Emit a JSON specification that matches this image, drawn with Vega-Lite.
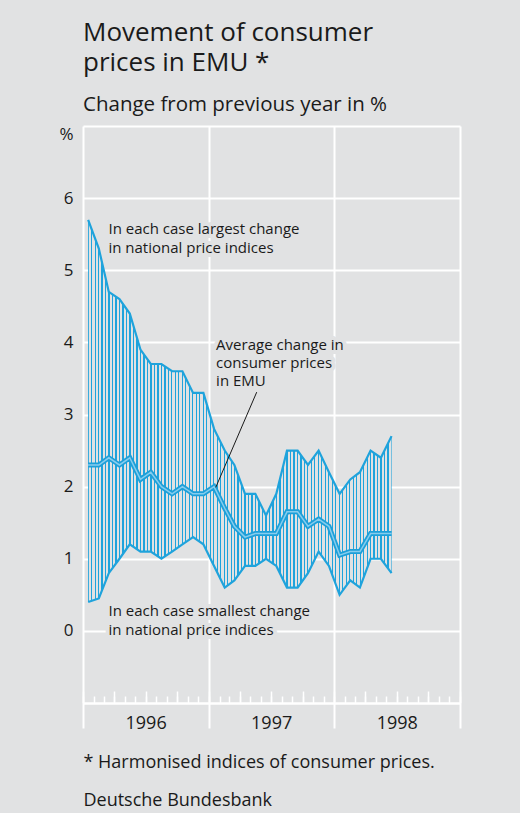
{
"$schema": "https://vega.github.io/schema/vega-lite/v6.json",
"width": 377, "height": 577,
"autosize": "none",
"padding": {"left": 83, "top": 126, "right": 60, "bottom": 110},
"background": "#e1e2e3",
"config": {"view": {"stroke": null}, "font": "Open Sans"},
"title": {
  "text": ["Movement of consumer", "prices in EMU *"],
  "subtitle": "Change from previous year in %",
  "anchor": "start", "frame": "group",
  "font": "Open Sans", "fontSize": 26, "fontWeight": "normal", "color": "#1a1a1a", "lineHeight": 30,
  "subtitleFont": "Open Sans", "subtitleFontSize": 20.5, "subtitleColor": "#1a1a1a", "subtitlePadding": 19,
  "offset": 2
},
"datasets": {
  "cpi": [
    {"month":"1996-01-16","max":5.7,"avg":2.3,"min":0.4},
    {"month":"1996-02-16","max":5.3,"avg":2.3,"min":0.45},
    {"month":"1996-03-16","max":4.7,"avg":2.4,"min":0.8},
    {"month":"1996-04-16","max":4.6,"avg":2.3,"min":1.0},
    {"month":"1996-05-16","max":4.4,"avg":2.4,"min":1.2},
    {"month":"1996-06-16","max":3.9,"avg":2.1,"min":1.1},
    {"month":"1996-07-16","max":3.7,"avg":2.2,"min":1.1},
    {"month":"1996-08-16","max":3.7,"avg":2.0,"min":1.0},
    {"month":"1996-09-16","max":3.6,"avg":1.9,"min":1.1},
    {"month":"1996-10-16","max":3.6,"avg":2.0,"min":1.2},
    {"month":"1996-11-16","max":3.3,"avg":1.9,"min":1.3},
    {"month":"1996-12-16","max":3.3,"avg":1.9,"min":1.2},
    {"month":"1997-01-16","max":2.8,"avg":2.0,"min":0.9},
    {"month":"1997-02-16","max":2.5,"avg":1.7,"min":0.6},
    {"month":"1997-03-16","max":2.3,"avg":1.45,"min":0.7},
    {"month":"1997-04-16","max":1.9,"avg":1.3,"min":0.9},
    {"month":"1997-05-16","max":1.9,"avg":1.35,"min":0.9},
    {"month":"1997-06-16","max":1.6,"avg":1.35,"min":1.0},
    {"month":"1997-07-16","max":1.9,"avg":1.35,"min":0.9},
    {"month":"1997-08-16","max":2.5,"avg":1.65,"min":0.6},
    {"month":"1997-09-16","max":2.5,"avg":1.65,"min":0.6},
    {"month":"1997-10-16","max":2.3,"avg":1.45,"min":0.8},
    {"month":"1997-11-16","max":2.5,"avg":1.55,"min":1.1},
    {"month":"1997-12-16","max":2.2,"avg":1.45,"min":0.9},
    {"month":"1998-01-16","max":1.9,"avg":1.05,"min":0.5},
    {"month":"1998-02-16","max":2.1,"avg":1.1,"min":0.7},
    {"month":"1998-03-16","max":2.2,"avg":1.1,"min":0.6},
    {"month":"1998-04-16","max":2.5,"avg":1.35,"min":1.0},
    {"month":"1998-05-16","max":2.4,"avg":1.35,"min":1.0},
    {"month":"1998-06-16","max":2.7,"avg":1.35,"min":0.8}
  ],
  "notes": [
    {"month":"1996-03-15","y":5.57,"text":"In each case largest change"},
    {"month":"1996-03-15","y":5.31,"text":"in national price indices"},
    {"month":"1997-01-22","y":3.97,"text":"Average change in"},
    {"month":"1997-01-22","y":3.72,"text":"consumer prices"},
    {"month":"1997-01-22","y":3.46,"text":"in EMU"},
    {"month":"1996-03-15","y":0.27,"text":"In each case smallest change"},
    {"month":"1996-03-15","y":0.01,"text":"in national price indices"}
  ],
  "pointer": [
    {"from":"1997-05-20","y":3.31,"to":"1997-01-21","y2":1.99}
  ]
},
"layer": [
  {
    "data": {"name": "cpi"},
    "mark": {"type": "area", "fill": {"gradient": "linear", "x1": 0, "y1": 0, "x2": 1.149425, "y2": 0, "stops": [
      {"offset":0,"color":"#1fa3dc"},{"offset":0.0018,"color":"#1fa3dc"},{"offset":0.0018,"color":"#e1e2e3"},
      {"offset":0.0082,"color":"#e1e2e3"},{"offset":0.0082,"color":"#1fa3dc"},{"offset":0.0118,"color":"#1fa3dc"},{"offset":0.0118,"color":"#e1e2e3"},
      {"offset":0.0182,"color":"#e1e2e3"},{"offset":0.0182,"color":"#1fa3dc"},{"offset":0.0218,"color":"#1fa3dc"},{"offset":0.0218,"color":"#e1e2e3"},
      {"offset":0.0282,"color":"#e1e2e3"},{"offset":0.0282,"color":"#1fa3dc"},{"offset":0.0318,"color":"#1fa3dc"},{"offset":0.0318,"color":"#e1e2e3"},
      {"offset":0.0382,"color":"#e1e2e3"},{"offset":0.0382,"color":"#1fa3dc"},{"offset":0.0418,"color":"#1fa3dc"},{"offset":0.0418,"color":"#e1e2e3"},
      {"offset":0.0482,"color":"#e1e2e3"},{"offset":0.0482,"color":"#1fa3dc"},{"offset":0.0518,"color":"#1fa3dc"},{"offset":0.0518,"color":"#e1e2e3"},
      {"offset":0.0582,"color":"#e1e2e3"},{"offset":0.0582,"color":"#1fa3dc"},{"offset":0.0618,"color":"#1fa3dc"},{"offset":0.0618,"color":"#e1e2e3"},
      {"offset":0.0682,"color":"#e1e2e3"},{"offset":0.0682,"color":"#1fa3dc"},{"offset":0.0718,"color":"#1fa3dc"},{"offset":0.0718,"color":"#e1e2e3"},
      {"offset":0.0782,"color":"#e1e2e3"},{"offset":0.0782,"color":"#1fa3dc"},{"offset":0.0818,"color":"#1fa3dc"},{"offset":0.0818,"color":"#e1e2e3"},
      {"offset":0.0882,"color":"#e1e2e3"},{"offset":0.0882,"color":"#1fa3dc"},{"offset":0.0918,"color":"#1fa3dc"},{"offset":0.0918,"color":"#e1e2e3"},
      {"offset":0.0982,"color":"#e1e2e3"},{"offset":0.0982,"color":"#1fa3dc"},{"offset":0.1018,"color":"#1fa3dc"},{"offset":0.1018,"color":"#e1e2e3"},
      {"offset":0.1082,"color":"#e1e2e3"},{"offset":0.1082,"color":"#1fa3dc"},{"offset":0.1118,"color":"#1fa3dc"},{"offset":0.1118,"color":"#e1e2e3"},
      {"offset":0.1182,"color":"#e1e2e3"},{"offset":0.1182,"color":"#1fa3dc"},{"offset":0.1218,"color":"#1fa3dc"},{"offset":0.1218,"color":"#e1e2e3"},
      {"offset":0.1282,"color":"#e1e2e3"},{"offset":0.1282,"color":"#1fa3dc"},{"offset":0.1318,"color":"#1fa3dc"},{"offset":0.1318,"color":"#e1e2e3"},
      {"offset":0.1382,"color":"#e1e2e3"},{"offset":0.1382,"color":"#1fa3dc"},{"offset":0.1418,"color":"#1fa3dc"},{"offset":0.1418,"color":"#e1e2e3"},
      {"offset":0.1482,"color":"#e1e2e3"},{"offset":0.1482,"color":"#1fa3dc"},{"offset":0.1518,"color":"#1fa3dc"},{"offset":0.1518,"color":"#e1e2e3"},
      {"offset":0.1582,"color":"#e1e2e3"},{"offset":0.1582,"color":"#1fa3dc"},{"offset":0.1618,"color":"#1fa3dc"},{"offset":0.1618,"color":"#e1e2e3"},
      {"offset":0.1682,"color":"#e1e2e3"},{"offset":0.1682,"color":"#1fa3dc"},{"offset":0.1718,"color":"#1fa3dc"},{"offset":0.1718,"color":"#e1e2e3"},
      {"offset":0.1782,"color":"#e1e2e3"},{"offset":0.1782,"color":"#1fa3dc"},{"offset":0.1818,"color":"#1fa3dc"},{"offset":0.1818,"color":"#e1e2e3"},
      {"offset":0.1882,"color":"#e1e2e3"},{"offset":0.1882,"color":"#1fa3dc"},{"offset":0.1918,"color":"#1fa3dc"},{"offset":0.1918,"color":"#e1e2e3"},
      {"offset":0.1982,"color":"#e1e2e3"},{"offset":0.1982,"color":"#1fa3dc"},{"offset":0.2018,"color":"#1fa3dc"},{"offset":0.2018,"color":"#e1e2e3"},
      {"offset":0.2082,"color":"#e1e2e3"},{"offset":0.2082,"color":"#1fa3dc"},{"offset":0.2118,"color":"#1fa3dc"},{"offset":0.2118,"color":"#e1e2e3"},
      {"offset":0.2182,"color":"#e1e2e3"},{"offset":0.2182,"color":"#1fa3dc"},{"offset":0.2218,"color":"#1fa3dc"},{"offset":0.2218,"color":"#e1e2e3"},
      {"offset":0.2282,"color":"#e1e2e3"},{"offset":0.2282,"color":"#1fa3dc"},{"offset":0.2318,"color":"#1fa3dc"},{"offset":0.2318,"color":"#e1e2e3"},
      {"offset":0.2382,"color":"#e1e2e3"},{"offset":0.2382,"color":"#1fa3dc"},{"offset":0.2418,"color":"#1fa3dc"},{"offset":0.2418,"color":"#e1e2e3"},
      {"offset":0.2482,"color":"#e1e2e3"},{"offset":0.2482,"color":"#1fa3dc"},{"offset":0.2518,"color":"#1fa3dc"},{"offset":0.2518,"color":"#e1e2e3"},
      {"offset":0.2582,"color":"#e1e2e3"},{"offset":0.2582,"color":"#1fa3dc"},{"offset":0.2618,"color":"#1fa3dc"},{"offset":0.2618,"color":"#e1e2e3"},
      {"offset":0.2682,"color":"#e1e2e3"},{"offset":0.2682,"color":"#1fa3dc"},{"offset":0.2718,"color":"#1fa3dc"},{"offset":0.2718,"color":"#e1e2e3"},
      {"offset":0.2782,"color":"#e1e2e3"},{"offset":0.2782,"color":"#1fa3dc"},{"offset":0.2818,"color":"#1fa3dc"},{"offset":0.2818,"color":"#e1e2e3"},
      {"offset":0.2882,"color":"#e1e2e3"},{"offset":0.2882,"color":"#1fa3dc"},{"offset":0.2918,"color":"#1fa3dc"},{"offset":0.2918,"color":"#e1e2e3"},
      {"offset":0.2982,"color":"#e1e2e3"},{"offset":0.2982,"color":"#1fa3dc"},{"offset":0.3018,"color":"#1fa3dc"},{"offset":0.3018,"color":"#e1e2e3"},
      {"offset":0.3082,"color":"#e1e2e3"},{"offset":0.3082,"color":"#1fa3dc"},{"offset":0.3118,"color":"#1fa3dc"},{"offset":0.3118,"color":"#e1e2e3"},
      {"offset":0.3182,"color":"#e1e2e3"},{"offset":0.3182,"color":"#1fa3dc"},{"offset":0.3218,"color":"#1fa3dc"},{"offset":0.3218,"color":"#e1e2e3"},
      {"offset":0.3282,"color":"#e1e2e3"},{"offset":0.3282,"color":"#1fa3dc"},{"offset":0.3318,"color":"#1fa3dc"},{"offset":0.3318,"color":"#e1e2e3"},
      {"offset":0.3382,"color":"#e1e2e3"},{"offset":0.3382,"color":"#1fa3dc"},{"offset":0.3418,"color":"#1fa3dc"},{"offset":0.3418,"color":"#e1e2e3"},
      {"offset":0.3482,"color":"#e1e2e3"},{"offset":0.3482,"color":"#1fa3dc"},{"offset":0.3518,"color":"#1fa3dc"},{"offset":0.3518,"color":"#e1e2e3"},
      {"offset":0.3582,"color":"#e1e2e3"},{"offset":0.3582,"color":"#1fa3dc"},{"offset":0.3618,"color":"#1fa3dc"},{"offset":0.3618,"color":"#e1e2e3"},
      {"offset":0.3682,"color":"#e1e2e3"},{"offset":0.3682,"color":"#1fa3dc"},{"offset":0.3718,"color":"#1fa3dc"},{"offset":0.3718,"color":"#e1e2e3"},
      {"offset":0.3782,"color":"#e1e2e3"},{"offset":0.3782,"color":"#1fa3dc"},{"offset":0.3818,"color":"#1fa3dc"},{"offset":0.3818,"color":"#e1e2e3"},
      {"offset":0.3882,"color":"#e1e2e3"},{"offset":0.3882,"color":"#1fa3dc"},{"offset":0.3918,"color":"#1fa3dc"},{"offset":0.3918,"color":"#e1e2e3"},
      {"offset":0.3982,"color":"#e1e2e3"},{"offset":0.3982,"color":"#1fa3dc"},{"offset":0.4018,"color":"#1fa3dc"},{"offset":0.4018,"color":"#e1e2e3"},
      {"offset":0.4082,"color":"#e1e2e3"},{"offset":0.4082,"color":"#1fa3dc"},{"offset":0.4118,"color":"#1fa3dc"},{"offset":0.4118,"color":"#e1e2e3"},
      {"offset":0.4182,"color":"#e1e2e3"},{"offset":0.4182,"color":"#1fa3dc"},{"offset":0.4218,"color":"#1fa3dc"},{"offset":0.4218,"color":"#e1e2e3"},
      {"offset":0.4282,"color":"#e1e2e3"},{"offset":0.4282,"color":"#1fa3dc"},{"offset":0.4318,"color":"#1fa3dc"},{"offset":0.4318,"color":"#e1e2e3"},
      {"offset":0.4382,"color":"#e1e2e3"},{"offset":0.4382,"color":"#1fa3dc"},{"offset":0.4418,"color":"#1fa3dc"},{"offset":0.4418,"color":"#e1e2e3"},
      {"offset":0.4482,"color":"#e1e2e3"},{"offset":0.4482,"color":"#1fa3dc"},{"offset":0.4518,"color":"#1fa3dc"},{"offset":0.4518,"color":"#e1e2e3"},
      {"offset":0.4582,"color":"#e1e2e3"},{"offset":0.4582,"color":"#1fa3dc"},{"offset":0.4618,"color":"#1fa3dc"},{"offset":0.4618,"color":"#e1e2e3"},
      {"offset":0.4682,"color":"#e1e2e3"},{"offset":0.4682,"color":"#1fa3dc"},{"offset":0.4718,"color":"#1fa3dc"},{"offset":0.4718,"color":"#e1e2e3"},
      {"offset":0.4782,"color":"#e1e2e3"},{"offset":0.4782,"color":"#1fa3dc"},{"offset":0.4818,"color":"#1fa3dc"},{"offset":0.4818,"color":"#e1e2e3"},
      {"offset":0.4882,"color":"#e1e2e3"},{"offset":0.4882,"color":"#1fa3dc"},{"offset":0.4918,"color":"#1fa3dc"},{"offset":0.4918,"color":"#e1e2e3"},
      {"offset":0.4982,"color":"#e1e2e3"},{"offset":0.4982,"color":"#1fa3dc"},{"offset":0.5018,"color":"#1fa3dc"},{"offset":0.5018,"color":"#e1e2e3"},
      {"offset":0.5082,"color":"#e1e2e3"},{"offset":0.5082,"color":"#1fa3dc"},{"offset":0.5118,"color":"#1fa3dc"},{"offset":0.5118,"color":"#e1e2e3"},
      {"offset":0.5182,"color":"#e1e2e3"},{"offset":0.5182,"color":"#1fa3dc"},{"offset":0.5218,"color":"#1fa3dc"},{"offset":0.5218,"color":"#e1e2e3"},
      {"offset":0.5282,"color":"#e1e2e3"},{"offset":0.5282,"color":"#1fa3dc"},{"offset":0.5318,"color":"#1fa3dc"},{"offset":0.5318,"color":"#e1e2e3"},
      {"offset":0.5382,"color":"#e1e2e3"},{"offset":0.5382,"color":"#1fa3dc"},{"offset":0.5418,"color":"#1fa3dc"},{"offset":0.5418,"color":"#e1e2e3"},
      {"offset":0.5482,"color":"#e1e2e3"},{"offset":0.5482,"color":"#1fa3dc"},{"offset":0.5518,"color":"#1fa3dc"},{"offset":0.5518,"color":"#e1e2e3"},
      {"offset":0.5582,"color":"#e1e2e3"},{"offset":0.5582,"color":"#1fa3dc"},{"offset":0.5618,"color":"#1fa3dc"},{"offset":0.5618,"color":"#e1e2e3"},
      {"offset":0.5682,"color":"#e1e2e3"},{"offset":0.5682,"color":"#1fa3dc"},{"offset":0.5718,"color":"#1fa3dc"},{"offset":0.5718,"color":"#e1e2e3"},
      {"offset":0.5782,"color":"#e1e2e3"},{"offset":0.5782,"color":"#1fa3dc"},{"offset":0.5818,"color":"#1fa3dc"},{"offset":0.5818,"color":"#e1e2e3"},
      {"offset":0.5882,"color":"#e1e2e3"},{"offset":0.5882,"color":"#1fa3dc"},{"offset":0.5918,"color":"#1fa3dc"},{"offset":0.5918,"color":"#e1e2e3"},
      {"offset":0.5982,"color":"#e1e2e3"},{"offset":0.5982,"color":"#1fa3dc"},{"offset":0.6018,"color":"#1fa3dc"},{"offset":0.6018,"color":"#e1e2e3"},
      {"offset":0.6082,"color":"#e1e2e3"},{"offset":0.6082,"color":"#1fa3dc"},{"offset":0.6118,"color":"#1fa3dc"},{"offset":0.6118,"color":"#e1e2e3"},
      {"offset":0.6182,"color":"#e1e2e3"},{"offset":0.6182,"color":"#1fa3dc"},{"offset":0.6218,"color":"#1fa3dc"},{"offset":0.6218,"color":"#e1e2e3"},
      {"offset":0.6282,"color":"#e1e2e3"},{"offset":0.6282,"color":"#1fa3dc"},{"offset":0.6318,"color":"#1fa3dc"},{"offset":0.6318,"color":"#e1e2e3"},
      {"offset":0.6382,"color":"#e1e2e3"},{"offset":0.6382,"color":"#1fa3dc"},{"offset":0.6418,"color":"#1fa3dc"},{"offset":0.6418,"color":"#e1e2e3"},
      {"offset":0.6482,"color":"#e1e2e3"},{"offset":0.6482,"color":"#1fa3dc"},{"offset":0.6518,"color":"#1fa3dc"},{"offset":0.6518,"color":"#e1e2e3"},
      {"offset":0.6582,"color":"#e1e2e3"},{"offset":0.6582,"color":"#1fa3dc"},{"offset":0.6618,"color":"#1fa3dc"},{"offset":0.6618,"color":"#e1e2e3"},
      {"offset":0.6682,"color":"#e1e2e3"},{"offset":0.6682,"color":"#1fa3dc"},{"offset":0.6718,"color":"#1fa3dc"},{"offset":0.6718,"color":"#e1e2e3"},
      {"offset":0.6782,"color":"#e1e2e3"},{"offset":0.6782,"color":"#1fa3dc"},{"offset":0.6818,"color":"#1fa3dc"},{"offset":0.6818,"color":"#e1e2e3"},
      {"offset":0.6882,"color":"#e1e2e3"},{"offset":0.6882,"color":"#1fa3dc"},{"offset":0.6918,"color":"#1fa3dc"},{"offset":0.6918,"color":"#e1e2e3"},
      {"offset":0.6982,"color":"#e1e2e3"},{"offset":0.6982,"color":"#1fa3dc"},{"offset":0.7018,"color":"#1fa3dc"},{"offset":0.7018,"color":"#e1e2e3"},
      {"offset":0.7082,"color":"#e1e2e3"},{"offset":0.7082,"color":"#1fa3dc"},{"offset":0.7118,"color":"#1fa3dc"},{"offset":0.7118,"color":"#e1e2e3"},
      {"offset":0.7182,"color":"#e1e2e3"},{"offset":0.7182,"color":"#1fa3dc"},{"offset":0.7218,"color":"#1fa3dc"},{"offset":0.7218,"color":"#e1e2e3"},
      {"offset":0.7282,"color":"#e1e2e3"},{"offset":0.7282,"color":"#1fa3dc"},{"offset":0.7318,"color":"#1fa3dc"},{"offset":0.7318,"color":"#e1e2e3"},
      {"offset":0.7382,"color":"#e1e2e3"},{"offset":0.7382,"color":"#1fa3dc"},{"offset":0.7418,"color":"#1fa3dc"},{"offset":0.7418,"color":"#e1e2e3"},
      {"offset":0.7482,"color":"#e1e2e3"},{"offset":0.7482,"color":"#1fa3dc"},{"offset":0.7518,"color":"#1fa3dc"},{"offset":0.7518,"color":"#e1e2e3"},
      {"offset":0.7582,"color":"#e1e2e3"},{"offset":0.7582,"color":"#1fa3dc"},{"offset":0.7618,"color":"#1fa3dc"},{"offset":0.7618,"color":"#e1e2e3"},
      {"offset":0.7682,"color":"#e1e2e3"},{"offset":0.7682,"color":"#1fa3dc"},{"offset":0.7718,"color":"#1fa3dc"},{"offset":0.7718,"color":"#e1e2e3"},
      {"offset":0.7782,"color":"#e1e2e3"},{"offset":0.7782,"color":"#1fa3dc"},{"offset":0.7818,"color":"#1fa3dc"},{"offset":0.7818,"color":"#e1e2e3"},
      {"offset":0.7882,"color":"#e1e2e3"},{"offset":0.7882,"color":"#1fa3dc"},{"offset":0.7918,"color":"#1fa3dc"},{"offset":0.7918,"color":"#e1e2e3"},
      {"offset":0.7982,"color":"#e1e2e3"},{"offset":0.7982,"color":"#1fa3dc"},{"offset":0.8018,"color":"#1fa3dc"},{"offset":0.8018,"color":"#e1e2e3"},
      {"offset":0.8082,"color":"#e1e2e3"},{"offset":0.8082,"color":"#1fa3dc"},{"offset":0.8118,"color":"#1fa3dc"},{"offset":0.8118,"color":"#e1e2e3"},
      {"offset":0.8182,"color":"#e1e2e3"},{"offset":0.8182,"color":"#1fa3dc"},{"offset":0.8218,"color":"#1fa3dc"},{"offset":0.8218,"color":"#e1e2e3"},
      {"offset":0.8282,"color":"#e1e2e3"},{"offset":0.8282,"color":"#1fa3dc"},{"offset":0.8318,"color":"#1fa3dc"},{"offset":0.8318,"color":"#e1e2e3"},
      {"offset":0.8382,"color":"#e1e2e3"},{"offset":0.8382,"color":"#1fa3dc"},{"offset":0.8418,"color":"#1fa3dc"},{"offset":0.8418,"color":"#e1e2e3"},
      {"offset":0.8482,"color":"#e1e2e3"},{"offset":0.8482,"color":"#1fa3dc"},{"offset":0.8518,"color":"#1fa3dc"},{"offset":0.8518,"color":"#e1e2e3"},
      {"offset":0.8582,"color":"#e1e2e3"},{"offset":0.8582,"color":"#1fa3dc"},{"offset":0.8618,"color":"#1fa3dc"},{"offset":0.8618,"color":"#e1e2e3"},
      {"offset":0.8682,"color":"#e1e2e3"},{"offset":0.8682,"color":"#1fa3dc"},{"offset":1,"color":"#1fa3dc"}
    ]}},
    "encoding": {
      "x": {"field": "month", "type": "temporal",
        "scale": {"domain": [{"year":1996,"month":1,"date":1},{"year":1999,"month":1,"date":1}], "nice": false},
        "axis": {"orient": "bottom",
          "values": [{"year":1996,"month":1,"date":1},{"year":1997,"month":1,"date":1},{"year":1998,"month":1,"date":1},{"year":1999,"month":1,"date":1}],
          "grid": true, "gridColor": "#ffffff", "gridWidth": 2, "gridOpacity": 1,
          "ticks": true, "tickSize": 25, "tickColor": "#ffffff", "tickWidth": 2,
          "labels": false, "domain": true, "domainColor": "#ffffff", "domainWidth": 2,
          "title": ["* Harmonised indices of consumer prices.", "Deutsche Bundesbank"],
          "titleFont": "Open Sans", "titleFontSize": 18, "titleFontWeight": "normal", "titleColor": "#1a1a1a",
          "titleAnchor": "start", "titleAlign": "left", "titleX": 0, "titleY": 50, "titleBaseline": "top", "titleLineHeight": 38}},
      "y": {"field": "max", "type": "quantitative",
        "scale": {"domain": [-1, 7], "nice": false, "zero": false},
        "axis": {"values": [-1,0,1,2,3,4,5,6,7], "grid": true, "gridColor": "#ffffff", "gridWidth": 2, "gridOpacity": 1,
          "domain": false, "ticks": false, "tickSize": 0,
          "labelExpr": "datum.value >= 0 && datum.value <= 6 ? datum.label : ''",
          "labelFont": "Open Sans", "labelFontSize": 17, "labelColor": "#1a1a1a", "labelPadding": 10, "labelOverlap": false,
          "title": "%", "titleAngle": 0, "titleX": -17, "titleY": 8, "titleAlign": "center", "titleBaseline": "middle",
          "titleFont": "Open Sans", "titleFontSize": 17, "titleFontWeight": "normal", "titleColor": "#1a1a1a"}},
      "y2": {"field": "min"}
    }
  },
  {
    "data": {"name": "cpi"},
    "mark": {"type": "line", "color": "#1fa3dc", "strokeWidth": 2.2},
    "encoding": {
      "x": {"field": "month", "type": "temporal",
        "scale": {"domain": [{"year":1996,"month":1,"date":1},{"year":1999,"month":1,"date":1}], "nice": false},
        "axis": {"orient": "bottom", "tickCount": {"interval": "month", "step": 1}, "ticks": true, "tickSize": -7,
          "tickColor": "#ffffff", "tickWidth": 1.5, "grid": false, "labels": false, "domain": false, "title": null}},
      "y": {"field": "max", "type": "quantitative", "scale": {"domain": [-1, 7], "nice": false}, "axis": null}
    }
  },
  {
    "data": {"name": "cpi"},
    "mark": {"type": "line", "color": "#1fa3dc", "strokeWidth": 2.2},
    "encoding": {
      "x": {"field": "month", "type": "temporal",
        "scale": {"domain": [{"year":1996,"month":1,"date":1},{"year":1999,"month":1,"date":1}], "nice": false},
        "axis": {"orient": "bottom", "tickCount": {"interval": "month", "step": 3}, "ticks": true, "tickSize": -12,
          "tickColor": "#ffffff", "tickWidth": 1.5, "grid": false, "labels": false, "domain": false, "title": null}},
      "y": {"field": "min", "type": "quantitative", "scale": {"domain": [-1, 7], "nice": false}, "axis": null}
    }
  },
  {
    "data": {"name": "cpi"},
    "mark": {"type": "line", "color": "#1d9fd8", "strokeWidth": 5},
    "encoding": {
      "x": {"field": "month", "type": "temporal",
        "scale": {"domain": [{"year":1996,"month":1,"date":1},{"year":1999,"month":1,"date":1}], "nice": false},
        "axis": {"orient": "bottom",
          "values": [{"year":1996,"month":7,"date":1},{"year":1997,"month":7,"date":1},{"year":1998,"month":7,"date":1}],
          "format": "%Y", "ticks": false, "tickSize": 0, "grid": false, "domain": false, "labels": true,
          "labelFont": "Open Sans", "labelFontSize": 18, "labelColor": "#1a1a1a", "labelPadding": 20, "labelBaseline": "middle",
          "labelFlush": false, "labelOverlap": false, "title": null}},
      "y": {"field": "avg", "type": "quantitative", "scale": {"domain": [-1, 7], "nice": false}, "axis": null}
    }
  },
  {
    "data": {"name": "cpi"},
    "mark": {"type": "line", "color": "#86cdee", "strokeWidth": 1.5},
    "encoding": {
      "x": {"field": "month", "type": "temporal", "axis": null},
      "y": {"field": "avg", "type": "quantitative", "axis": null}
    }
  },
  {
    "data": {"name": "pointer"},
    "mark": {"type": "rule", "color": "#1a1a1a", "strokeWidth": 1},
    "encoding": {
      "x": {"field": "from", "type": "temporal", "axis": null},
      "y": {"field": "y", "type": "quantitative", "axis": null},
      "x2": {"field": "to"},
      "y2": {"field": "y2"}
    }
  },
  {
    "data": {"name": "notes"},
    "mark": {"type": "text", "align": "left", "baseline": "middle", "font": "Open Sans", "fontSize": 15,
      "fill": "#e1e2e3", "stroke": "#e1e2e3", "strokeWidth": 8, "strokeJoin": "round"},
    "encoding": {
      "x": {"field": "month", "type": "temporal", "axis": null},
      "y": {"field": "y", "type": "quantitative", "axis": null},
      "text": {"field": "text"}
    }
  },
  {
    "data": {"name": "notes"},
    "mark": {"type": "text", "align": "left", "baseline": "middle", "font": "Open Sans", "fontSize": 15, "color": "#1a1a1a"},
    "encoding": {
      "x": {"field": "month", "type": "temporal", "axis": null},
      "y": {"field": "y", "type": "quantitative", "axis": null},
      "text": {"field": "text"}
    }
  }
],
"resolve": {"axis": {"x": "independent", "y": "independent"}}
}
